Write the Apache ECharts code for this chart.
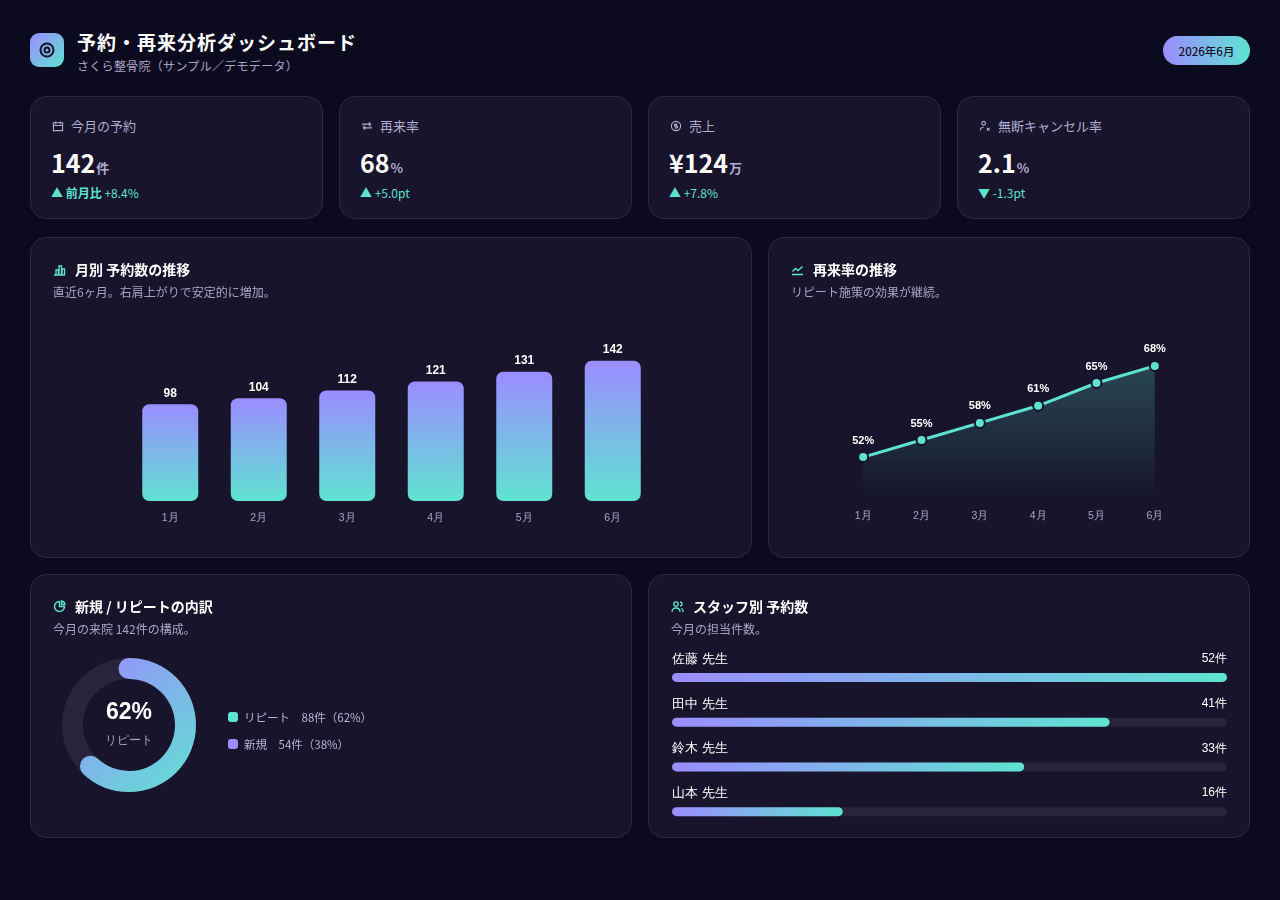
<!DOCTYPE html>
<html lang="ja">
<head>
<meta charset="utf-8">
<title>予約・再来分析ダッシュボード</title>
<script src="https://cdn.jsdelivr.net/npm/echarts@6/dist/echarts.min.js"></script>
<style>
  html, body { margin: 0; padding: 0; }
  body {
    width: 1280px; height: 900px; position: relative; overflow: hidden;
    background: #0c0a1f; color: #fff;
    font-family: "Noto Sans CJK JP", "Noto Sans", sans-serif;
  }
  .abs { position: absolute; }
  .card {
    position: absolute; box-sizing: border-box;
    background: #17142b; border: 1px solid #2b2843; border-radius: 16px;
  }
  .logo {
    left: 30px; top: 33px; width: 34px; height: 34px; border-radius: 9px;
    background: linear-gradient(135deg, #9b8cff, #5fe3d1);
    display: flex; align-items: center; justify-content: center;
  }
  .title { left: 77px; top: 28px; font-size: 19px; font-weight: 700; letter-spacing: 1px; }
  .subtitle { left: 77px; top: 57px; font-size: 12px; color: #a9a4c7; letter-spacing: 0.3px; }
  .badge {
    left: 1163px; top: 36px; width: 87px; height: 29px; border-radius: 15px;
    background: linear-gradient(90deg, #9b8cff, #5fe3d1);
    color: #15122a; font-size: 11.5px; font-weight: 500;
    display: flex; align-items: center; justify-content: center;
  }
  .kpi-label { position: absolute; left: 21px; top: 19px; font-size: 13px; color: #b0abd0; display: flex; align-items: center; gap: 7px; }
  .kpi-value { position: absolute; left: 20px; top: 47px; font-size: 25px; font-weight: 700; }
  .kpi-value span { font-size: 13px; color: #b0abd0; margin-left: 1px; }
  .kpi-delta { position: absolute; left: 20px; top: 87px; font-size: 12px; color: #5fe3d1; }
  .kpi-delta b { font-weight: 700; }
  .sec-title { position: absolute; left: 22px; top: 21px; font-size: 14px; font-weight: 700; display: flex; align-items: center; gap: 9px; z-index: 2; }
  .sec-sub { position: absolute; left: 22px; top: 45px; font-size: 12px; color: #a9a4c7; z-index: 2; }
  .chart { position: absolute; left: 0; top: 0; width: 100%; height: 100%; }
  .legend { position: absolute; left: 197px; top: 128px; font-size: 11.5px; color: #b7b2d6; z-index: 2; }
  .legend div { display: flex; align-items: center; height: 27px; }
  .legend i { display: inline-block; width: 10px; height: 10px; border-radius: 3px; margin-right: 6px; }
</style>
</head>
<body>

<div class="abs logo">
  <svg width="18" height="18" viewBox="0 0 18 18" fill="none" stroke="#15122a" stroke-width="2">
    <circle cx="9" cy="9" r="6.5"/><circle cx="9" cy="9" r="2.5"/>
  </svg>
</div>
<div class="abs title">予約・再来分析ダッシュボード</div>
<div class="abs subtitle">さくら整骨院（サンプル／デモデータ）</div>
<div class="abs badge">2026年6月</div>

<div id="kpis"></div>

<div class="card" style="left:30px;top:237px;width:722px;height:321px;">
  <div class="sec-title">
    <svg width="13" height="13" viewBox="0 0 13 13" fill="none" stroke="#5fe3d1" stroke-width="1.4"><path d="M1 12h11M3 12V7h2.5v5M6 12V3h2.5v9M9 12V6h2.5v6"/></svg>
    月別 予約数の推移</div>
  <div class="sec-sub">直近6ヶ月。右肩上がりで安定的に増加。</div>
  <div id="barChart" class="chart"></div>
</div>

<div class="card" style="left:768px;top:237px;width:482px;height:321px;">
  <div class="sec-title">
    <svg width="13" height="13" viewBox="0 0 13 13" fill="none" stroke="#5fe3d1" stroke-width="1.4"><path d="M1 11.5h11M1.5 8.5l3-3 2.5 2 4.5-4"/></svg>
    再来率の推移</div>
  <div class="sec-sub">リピート施策の効果が継続。</div>
  <div id="lineChart" class="chart"></div>
</div>

<div class="card" style="left:30px;top:574px;width:602px;height:264px;">
  <div class="sec-title">
    <svg width="13" height="13" viewBox="0 0 13 13" fill="none" stroke="#5fe3d1" stroke-width="1.4"><path d="M6.5 1.5a5 5 0 1 0 5 5h-5z"/><path d="M8.5 1v3.5H12A4 4 0 0 0 8.5 1z"/></svg>
    新規 / リピートの内訳</div>
  <div class="sec-sub">今月の来院 142件の構成。</div>
  <div id="donutChart" class="chart"></div>
  <div id="mixLegend" class="legend"></div>
</div>

<div class="card" style="left:648px;top:574px;width:602px;height:264px;">
  <div class="sec-title">
    <svg width="13" height="13" viewBox="0 0 13 13" fill="none" stroke="#5fe3d1" stroke-width="1.3"><circle cx="5" cy="4" r="2.2"/><path d="M1 12c0-2.5 1.8-4 4-4s4 1.5 4 4M9 2a2 2 0 0 1 0 4M10.5 8.3c1 .6 1.7 1.9 1.7 3.7"/></svg>
    スタッフ別 予約数</div>
  <div class="sec-sub">今月の担当件数。</div>
  <div id="staffChart" class="chart"></div>
</div>

<script>
// data
const months = ['1月', '2月', '3月', '4月', '5月', '6月'];
const bookings = [98, 104, 112, 121, 131, 142];
const repeatRate = [52, 55, 58, 61, 65, 68];
const mixNames = ['リピート', '新規'];
const mixValues = [88, 54];
const staffNames = ['佐藤 先生', '田中 先生', '鈴木 先生', '山本 先生'];
const staffValues = [52, 41, 33, 16];

const kpiLabels = ['今月の予約', '再来率', '売上', '無断キャンセル率'];
const kpiValues = ['142', '68', '¥124', '2.1'];
const kpiUnits = ['件', '%', '万', '%'];
const kpiArrows = ['▲', '▲', '▲', '▼'];
const kpiNotes = ['前月比', '', '', ''];
const kpiDeltas = ['+8.4%', '+5.0pt', '+7.8%', '-1.3pt'];

const PURPLE = '#9b8cff';
const TEAL = '#5fe3d1';
const MUTED = '#a9a4c7';
const TRACK = '#27243b';

// kpi cards
const kpiIcons = [
  '<path d="M1.5 3h10v8.5h-10zM1.5 6h10M4 1.5v3M9 1.5v3"/>',
  '<path d="M2 6V4.5h8.5M8.5 2.5l2 2-2 2M11 7v1.5H2.5M4.5 10.5l-2-2 2-2"/>',
  '<circle cx="6.5" cy="6.5" r="5"/><path d="M8 4.6H5.6a1 1 0 0 0 0 2h1.8a1 1 0 0 1 0 2H5M6.5 3.5v6"/>',
  '<circle cx="5" cy="3.5" r="2"/><path d="M1.5 11.5c0-2.3 1.5-3.7 3.5-3.7M8.5 8.5l3 3M11.5 8.5l-3 3"/>'
];
let html = '';
kpiLabels.forEach(function (label, i) {
  html += '<div class="card" style="left:' + (30 + i * 309) + 'px;top:96px;width:293px;height:123px;">' +
    '<div class="kpi-label"><svg width="12" height="12" viewBox="0 0 13 13" fill="none" stroke="#b0abd0" stroke-width="1.2">' + kpiIcons[i] + '</svg>' + label + '</div>' +
    '<div class="kpi-value">' + kpiValues[i] + '<span>' + kpiUnits[i] + '</span></div>' +
    '<div class="kpi-delta">' + kpiArrows[i] + ' ' + (kpiNotes[i] ? '<b>' + kpiNotes[i] + '</b> ' : '') + kpiDeltas[i] + '</div>' +
    '</div>';
});
document.getElementById('kpis').innerHTML = html;

// monthly bookings
let barChart = echarts.init(document.getElementById('barChart'));
barChart.setOption({
  animation: false,
  grid: { left: 95, right: 94, top: 105, bottom: 56 },
  xAxis: {
    type: 'category',
    data: months,
    axisLine: { show: false },
    axisTick: { show: false },
    axisLabel: { color: MUTED, fontSize: 10.5, margin: 12 }
  },
  yAxis: { type: 'value', min: 0, max: 160, show: false },
  series: [{
    type: 'bar',
    data: bookings,
    barWidth: 56,
    itemStyle: {
      borderRadius: 7,
      color: new echarts.graphic.LinearGradient(0, 0, 0, 1, [
        { offset: 0, color: PURPLE },
        { offset: 1, color: TEAL }
      ])
    },
    label: { show: true, position: 'top', distance: 5, color: '#fff', fontSize: 12, fontWeight: 'bold' }
  }]
});

// repeat rate
let lineChart = echarts.init(document.getElementById('lineChart'));
lineChart.setOption({
  animation: false,
  grid: { left: 65, right: 65, top: 88, bottom: 60 },
  xAxis: {
    type: 'category',
    data: months,
    axisLine: { show: false },
    axisTick: { show: false },
    axisLabel: { color: MUTED, fontSize: 10.5, margin: 14 }
  },
  yAxis: { type: 'value', min: 45, max: 75, show: false },
  series: [{
    type: 'line',
    data: repeatRate,
    symbol: 'circle',
    symbolSize: 10,
    lineStyle: { color: TEAL, width: 3 },
    itemStyle: { color: TEAL, borderColor: '#17142b', borderWidth: 2 },
    areaStyle: {
      color: new echarts.graphic.LinearGradient(0, 0, 0, 1, [
        { offset: 0, color: 'rgba(95,227,209,0.35)' },
        { offset: 1, color: 'rgba(95,227,209,0.02)' }
      ])
    },
    label: { show: true, position: 'top', formatter: '{c}%', color: '#fff', fontSize: 11, fontWeight: 'bold' }
  }]
});

// new / repeat mix
const mixTotal = mixValues[0] + mixValues[1];
const pct = mixValues.map(function (v) { return Math.round(v / mixTotal * 100); });
let donutChart = echarts.init(document.getElementById('donutChart'));
donutChart.setOption({
  animation: false,
  series: [{
    type: 'gauge',
    center: [98, 150],
    radius: 67,
    startAngle: 90,
    endAngle: -270,
    min: 0,
    max: mixTotal,
    pointer: { show: false },
    axisLine: { lineStyle: { width: 21, color: [[1, TRACK]] } },
    progress: {
      show: true, width: 21, roundCap: true,
      itemStyle: {
        color: new echarts.graphic.LinearGradient(0, 0, 1, 1, [
          { offset: 0, color: PURPLE },
          { offset: 1, color: TEAL }
        ])
      }
    },
    splitLine: { show: false },
    axisTick: { show: false },
    axisLabel: { show: false },
    title: { offsetCenter: [0, 16], color: MUTED, fontSize: 12 },
    detail: {
      offsetCenter: [0, -12], color: '#fff', fontSize: 23, fontWeight: 'bold',
      formatter: function (v) { return Math.round(v / mixTotal * 100) + '%'; }
    },
    data: [{ value: mixValues[0], name: mixNames[0] }]
  }]
});
const legendColors = [TEAL, PURPLE];
document.getElementById('mixLegend').innerHTML = mixNames.map(function (n, i) {
  return '<div><i style="background:' + legendColors[i] + '"></i>' + n + '　' + mixValues[i] + '件（' + pct[i] + '%）</div>';
}).join('');

// staff
const staffMax = Math.max.apply(null, staffValues);
let staffChart = echarts.init(document.getElementById('staffChart'));
staffChart.setOption({
  animation: false,
  grid: { left: 23, right: 22, top: 80, bottom: 3 },
  xAxis: { type: 'value', min: 0, max: staffMax, show: false },
  yAxis: { type: 'category', data: staffNames, inverse: true, show: false },
  series: [
    {
      type: 'bar',
      data: staffValues,
      barWidth: 9,
      barGap: '-100%',
      showBackground: true,
      backgroundStyle: { color: TRACK, borderRadius: 5 },
      itemStyle: {
        borderRadius: 5,
        color: new echarts.graphic.LinearGradient(0, 0, 1, 0, [
          { offset: 0, color: PURPLE },
          { offset: 1, color: TEAL }
        ])
      }
    },
    {
      type: 'bar',
      data: staffValues.map(function () { return staffMax; }),
      barWidth: 9,
      barGap: '-100%',
      silent: true,
      itemStyle: { color: 'transparent' },
      label: {
        show: true, position: 'insideTopLeft', distance: 0, offset: [0, -20],
        color: '#fff', fontSize: 13,
        formatter: function (p) { return staffNames[p.dataIndex]; }
      }
    },
    {
      type: 'bar',
      data: staffValues.map(function () { return staffMax; }),
      barWidth: 9,
      barGap: '-100%',
      silent: true,
      itemStyle: { color: 'transparent' },
      label: {
        show: true, position: 'insideTopRight', distance: 0, offset: [0, -20],
        color: '#fff', fontSize: 12,
        formatter: function (p) { return staffValues[p.dataIndex] + '件'; }
      }
    }
  ]
});
</script>
</body>
</html>
